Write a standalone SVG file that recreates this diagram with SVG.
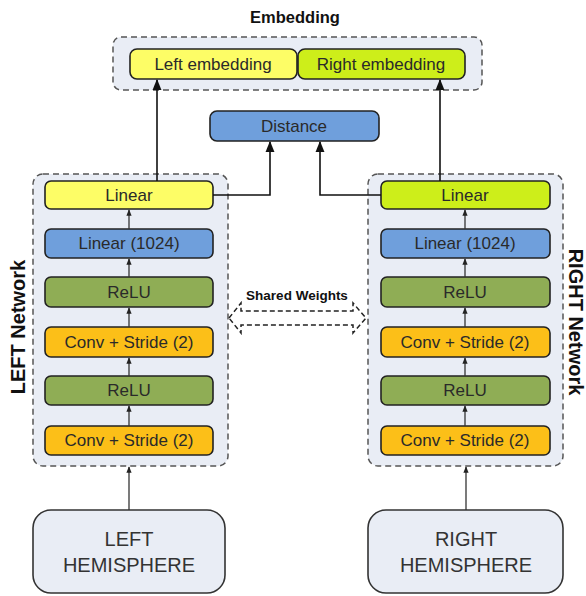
<svg xmlns="http://www.w3.org/2000/svg" width="586" height="596" viewBox="0 0 586 596">
<defs>
<style>
.grp{fill:#e9edf5;stroke:#555;stroke-width:1.5;stroke-dasharray:6,4}
.n{stroke:#222;stroke-width:1.6}
.t{font-family:"Liberation Sans",Arial,sans-serif;font-size:17px;fill:#2a2a2a;text-anchor:middle}
.b{font-family:"Liberation Sans",Arial,sans-serif;font-weight:bold;fill:#111;text-anchor:middle}
.hemi{fill:#e9edf5;stroke:#333;stroke-width:1.6}
.ht{font-family:"Liberation Sans",Arial,sans-serif;font-size:20px;fill:#333;text-anchor:middle}
.yel{fill:#fdfd66}.lime{fill:#cdee1a}.blue{fill:#6f9fdc}.grn{fill:#8fad55}.org{fill:#fcbf18}
.c{fill:none;stroke:#111;stroke-width:1.6}
.cs{fill:none;stroke:#333;stroke-width:1.3}
</style>
<marker id="ah" viewBox="0 0 10 10" refX="9" refY="5" markerWidth="7" markerHeight="7" orient="auto"><path d="M0,1 L10,5 L0,9 z" fill="#111"/></marker>
<marker id="as" viewBox="0 0 10 10" refX="9" refY="5" markerWidth="5" markerHeight="5" orient="auto"><path d="M0,1 L10,5 L0,9 z" fill="#222"/></marker>
</defs>
<rect width="586" height="596" fill="#fff"/>

<text class="b" x="295" y="23" font-size="16.5">Embedding</text>
<rect class="grp" x="113" y="37" width="369" height="53" rx="8"/>
<rect class="grp" x="33" y="174" width="195" height="292" rx="10"/>
<rect class="grp" x="368" y="174" width="195" height="292" rx="10"/>

<g id="left-embedding"><rect class="n yel" x="130" y="49" width="167" height="30" rx="7"/><text class="t" x="213" y="70">Left embedding</text></g>
<g id="right-embedding"><rect class="n lime" x="298" y="49" width="167" height="30" rx="7"/><text class="t" x="381" y="70">Right embedding</text></g>
<g id="distance"><rect class="n blue" x="210" y="111" width="169" height="30" rx="7"/><text class="t" x="294" y="132">Distance</text></g>

<g id="left-linear"><rect class="n yel" x="45" y="181" width="168" height="28" rx="6"/><text class="t" x="129" y="201">Linear</text></g>
<g id="left-linear1024"><rect class="n blue" x="45" y="229" width="168" height="29" rx="6"/><text class="t" x="129" y="249">Linear (1024)</text></g>
<g id="left-relu2"><rect class="n grn" x="45" y="277" width="168" height="30" rx="6"/><text class="t" x="129" y="298">ReLU</text></g>
<g id="left-conv2"><rect class="n org" x="45" y="327" width="168" height="30" rx="6"/><text class="t" x="129" y="348">Conv + Stride (2)</text></g>
<g id="left-relu1"><rect class="n grn" x="45" y="376" width="168" height="29" rx="6"/><text class="t" x="129" y="396">ReLU</text></g>
<g id="left-conv1"><rect class="n org" x="45" y="426" width="168" height="29" rx="6"/><text class="t" x="129" y="446">Conv + Stride (2)</text></g>

<g id="right-linear"><rect class="n lime" x="381" y="181" width="169" height="28" rx="6"/><text class="t" x="465" y="201">Linear</text></g>
<g id="right-linear1024"><rect class="n blue" x="381" y="229" width="169" height="29" rx="6"/><text class="t" x="465" y="249">Linear (1024)</text></g>
<g id="right-relu2"><rect class="n grn" x="381" y="277" width="169" height="30" rx="6"/><text class="t" x="465" y="298">ReLU</text></g>
<g id="right-conv2"><rect class="n org" x="381" y="327" width="169" height="30" rx="6"/><text class="t" x="465" y="348">Conv + Stride (2)</text></g>
<g id="right-relu1"><rect class="n grn" x="381" y="376" width="169" height="29" rx="6"/><text class="t" x="465" y="396">ReLU</text></g>
<g id="right-conv1"><rect class="n org" x="381" y="426" width="169" height="29" rx="6"/><text class="t" x="465" y="446">Conv + Stride (2)</text></g>

<g id="left-hemisphere"><rect class="hemi" x="33" y="510" width="192" height="83" rx="18"/><text class="ht" x="129" y="546">LEFT</text><text class="ht" x="129" y="572">HEMISPHERE</text></g>
<g id="right-hemisphere"><rect class="hemi" x="368" y="510" width="195" height="83" rx="18"/><text class="ht" x="466" y="546">RIGHT</text><text class="ht" x="466" y="572">HEMISPHERE</text></g>

<text class="b" font-size="20" transform="translate(25,327) rotate(-90)">LEFT Network</text>
<text class="b" font-size="20" transform="translate(569,322) rotate(90)">RIGHT Network</text>

<text class="b" font-size="13.5" x="297" y="300">Shared Weights</text>

<g id="connectors">
<path class="c" d="M157,181 V80" marker-end="url(#ah)"/>
<path class="c" d="M440,181 V80" marker-end="url(#ah)"/>
<path class="c" d="M213,195 H270 V142" marker-end="url(#ah)"/>
<path class="c" d="M381,195 H320 V142" marker-end="url(#ah)"/>
<path class="cs" d="M129,229 V210" marker-end="url(#as)"/>
<path class="cs" d="M129,277 V259" marker-end="url(#as)"/>
<path class="cs" d="M129,327 V308" marker-end="url(#as)"/>
<path class="cs" d="M129,376 V358" marker-end="url(#as)"/>
<path class="cs" d="M129,426 V406" marker-end="url(#as)"/>
<path class="cs" d="M465,229 V210" marker-end="url(#as)"/>
<path class="cs" d="M465,277 V259" marker-end="url(#as)"/>
<path class="cs" d="M465,327 V308" marker-end="url(#as)"/>
<path class="cs" d="M465,376 V358" marker-end="url(#as)"/>
<path class="cs" d="M465,426 V406" marker-end="url(#as)"/>
<path class="cs" d="M129,510 V467" marker-end="url(#as)"/>
<path class="cs" d="M466,510 V467" marker-end="url(#as)"/>
<path d="M229,318 L241,303 V311 H353 V303 L366,318 L353,333 V325 H241 V333 Z" fill="#fff" stroke="#222" stroke-width="1.5" stroke-dasharray="5,3"/>
</g>
</svg>
